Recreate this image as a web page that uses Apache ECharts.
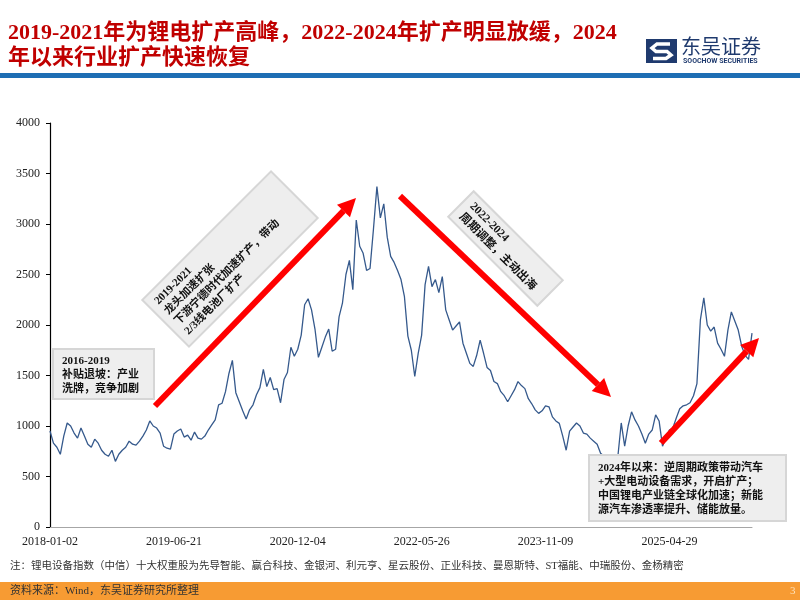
<!DOCTYPE html>
<html>
<head>
<meta charset="utf-8">
<script src="https://cdn.jsdelivr.net/npm/echarts@6/dist/echarts.min.js"></script>
<style>
  html, body { margin: 0; padding: 0; background: #fff; }
  #main { width: 800px; height: 600px; }
</style>
</head>
<body>
<div id="main"></div>
<script>
// 锂电设备指数（中信）十大权重股 —— 约每10个交易日一个点
var tickLabels = ['2018-01-02', '2019-06-21', '2020-12-04', '2022-05-26', '2023-11-09', '2025-04-29'];
var tickStep = 36;
var yTicks = [0, 500, 1000, 1500, 2000, 2500, 3000, 3500, 4000];

var indexValues = [
    950, 830, 790, 720, 900, 1030, 1000, 930, 880, 980,
    900, 820, 790, 870, 830, 760, 720, 700, 760, 650,
    720, 760, 790, 850, 820, 810, 850, 900, 960, 1050,
    1000, 980, 930, 800, 780, 770, 920, 950, 970, 890,
    910, 860, 940, 880, 870, 900, 960, 1010, 1060, 1210,
    1225, 1340, 1520, 1650, 1330, 1240, 1150, 1070, 1160, 1210,
    1310, 1380, 1560, 1390, 1480, 1360, 1370, 1230, 1460, 1530,
    1780, 1690, 1760, 1900, 2200, 2260, 2150, 1960, 1680, 1780,
    1880, 1960, 1740, 1760, 2080, 2220, 2500, 2640, 2350, 3040,
    2780, 2710, 2540, 2560, 2950, 3370, 3060, 3200, 2870, 2680,
    2620, 2540, 2450, 2280, 1890, 1750, 1490, 1720, 1900, 2400,
    2580, 2380, 2450, 2320, 2480, 2150, 2050, 1950, 1990, 2030,
    1820, 1720, 1620, 1590, 1700, 1850, 1720, 1580, 1550, 1440,
    1420, 1340, 1300, 1240, 1300, 1360, 1440, 1400, 1370, 1270,
    1220, 1160, 1125, 1150, 1200, 1190, 1090, 1050, 1026, 900,
    760, 950, 990, 1030, 1000, 930, 920, 880, 850, 820,
    730, 700, 690, 680, 700, 690, 1030, 800, 1000, 1140,
    1060, 1000, 920, 830, 920, 960, 1110, 1050, 800, 880,
    960, 980, 1080, 1170, 1200, 1210, 1230, 1300, 1420, 2050,
    2270, 2000, 1940, 1980, 1820, 1760, 1690, 1950, 2130, 2040,
    1950, 1790, 1700, 1660, 1920
];
var categories = indexValues.map(function (v, i) { return String(i); });

var noteText = '注：锂电设备指数（中信）十大权重股为先导智能、赢合科技、金银河、利元亨、星云股份、正业科技、曼恩斯特、ST福能、中瑞股份、金杨精密';
var sourceText = '资料来源：Wind，东吴证券研究所整理';

var serif = '"Liberation Serif", "Noto Sans CJK SC"';

function arrow(x1, y1, x2, y2) {
    var a = Math.atan2(y2 - y1, x2 - x1);
    var hl = 18, hw = 9;
    var bx = x2 - hl * Math.cos(a), by = y2 - hl * Math.sin(a);
    return [
        { type: 'line', shape: { x1: x1, y1: y1, x2: bx, y2: by },
          style: { stroke: '#ff0000', lineWidth: 6 }, z: 10 },
        { type: 'polygon',
          shape: { points: [[x2, y2], [bx + hw * Math.sin(a), by - hw * Math.cos(a)], [bx - hw * Math.sin(a), by + hw * Math.cos(a)]] },
          style: { fill: '#ff0000' }, z: 10 }
    ];
}

function boxText(lines, x, y0, step, size) {
    return lines.map(function (t, k) {
        return { type: 'text', x: x, y: y0 + k * step, z: 12,
            style: { text: t, fill: '#111', fontSize: size, fontWeight: 'bold', fontFamily: serif, verticalAlign: 'middle' } };
    });
}

var graphics = [
    // 标题
    { type: 'text', left: 8, top: 22, style: { text: '2019-2021年为锂电扩产高峰，2022-2024年扩产明显放缓，2024',
        fill: '#c00000', fontSize: 22, fontWeight: 'bold', fontFamily: serif } },
    { type: 'text', left: 8, top: 47, style: { text: '年以来行业扩产快速恢复',
        fill: '#c00000', fontSize: 22, fontWeight: 'bold', fontFamily: serif } },
    // logo
    { type: 'rect', shape: { x: 646, y: 39, width: 31, height: 24 }, style: { fill: '#1f3a6e' } },
    { type: 'polyline', shape: { points: [[670, 44], [657, 44], [652, 48], [656, 51.5], [667, 51.5], [671, 55], [666, 58.5], [653, 58.5]] },
      style: { stroke: '#fff', lineWidth: 3.5, fill: null } },
    { type: 'text', x: 681, y: 36, style: { text: '东吴证券', fill: '#1f3a6e', fontSize: 20, fontFamily: '"Noto Sans CJK SC"' } },
    { type: 'text', x: 683, y: 58, style: { text: 'SOOCHOW SECURITIES', fill: '#1f3a6e', fontSize: 7, fontWeight: 'bold', fontFamily: 'Roboto' } },
    { type: 'rect', shape: { x: 0, y: 73, width: 800, height: 5 }, style: { fill: '#1e6eb4' } },
    // 底部
    { type: 'text', x: 10, y: 566, style: { text: noteText, fill: '#333', fontSize: 10.5, fontFamily: serif, verticalAlign: 'middle' } },
    { type: 'rect', shape: { x: 0, y: 582, width: 800, height: 18 }, style: { fill: '#f79b33' } },
    { type: 'text', x: 10, y: 591, style: { text: sourceText, fill: '#333', fontSize: 11, fontFamily: serif, verticalAlign: 'middle' } },
    { type: 'text', x: 790, y: 591, style: { text: '3', fill: '#fde0b8', fontSize: 11, fontFamily: serif, verticalAlign: 'middle' } },
    // 2016-2019 注释框
    { type: 'rect', shape: { x: 53, y: 349, width: 101, height: 50 }, z: 11,
      style: { fill: '#eeeeee', stroke: '#d6d6d6', lineWidth: 2 } }
].concat(boxText(['2016-2019', '补贴退坡：产业', '洗牌，竞争加剧'], 62, 361, 14, 11));

// 2019-2021 倾斜框
graphics.push({ type: 'group', x: 230, y: 259, rotation: Math.PI / 4, z: 11, children: [
    { type: 'rect', shape: { x: -91, y: -33, width: 182, height: 66 }, z: 11,
      style: { fill: '#eeeeee', stroke: '#d6d6d6', lineWidth: 2 } }
].concat(boxText(['2019-2021', '龙头加速扩张', '下游宁德时代加速扩产，带动', '2/3线电池厂扩产'], -83, -21, 14.2, 11)) });

// 2022-2024 倾斜框
graphics.push({ type: 'group', x: 505.5, y: 248.5, rotation: -Math.PI / 4, z: 11, children: [
    { type: 'rect', shape: { x: -63, y: -18, width: 126, height: 36 }, z: 11,
      style: { fill: '#eeeeee', stroke: '#d6d6d6', lineWidth: 2 } }
].concat(boxText(['2022-2024', '周期调整，主动出海'], -55, -7, 15, 11.5)) });

// 2024年以来 注释框
graphics.push({ type: 'rect', shape: { x: 589, y: 455, width: 197, height: 66 }, z: 11,
    style: { fill: '#eeeeee', stroke: '#d6d6d6', lineWidth: 2 } });
graphics = graphics.concat(boxText(['2024年以来：逆周期政策带动汽车', '+大型电动设备需求，开启扩产；',
    '中国锂电产业链全球化加速；新能', '源汽车渗透率提升、储能放量。'], 598, 468, 14, 11));

// 箭头
graphics = graphics.concat(arrow(155, 406, 356, 198), arrow(400, 196, 611, 397), arrow(661, 443, 759, 338));

var myChart = echarts.init(document.getElementById('main'));
var option = {
    animation: false,
    grid: { left: 50, right: 48, top: 123, bottom: 73 },
    xAxis: {
        type: 'category',
        data: categories,
        boundaryGap: false,
        axisLine: { lineStyle: { color: '#a6a6a6', width: 1 } },
        axisTick: { show: false },
        axisLabel: {
            interval: tickStep - 1,
            margin: 9,
            color: '#222',
            fontSize: 12,
            fontFamily: serif,
            formatter: function (v, i) { return tickLabels[Math.round(i / tickStep)] || ''; }
        },
        splitLine: { show: false }
    },
    yAxis: {
        type: 'value',
        min: yTicks[0],
        max: yTicks[yTicks.length - 1],
        interval: 500,
        axisLine: { show: true, lineStyle: { color: '#000', width: 1.2 } },
        axisTick: { show: true, length: 4, lineStyle: { color: '#000' } },
        axisLabel: { color: '#222', fontSize: 12, fontFamily: serif, margin: 10,
            formatter: function (v) { return String(v); } },
        splitLine: { show: false }
    },
    series: [{
        name: '锂电设备指数',
        type: 'line',
        data: indexValues,
        showSymbol: false,
        lineStyle: { color: '#35598c', width: 1.3 },
        z: 5
    }],
    graphic: graphics
};
myChart.setOption(option);
</script>
</body>
</html>
